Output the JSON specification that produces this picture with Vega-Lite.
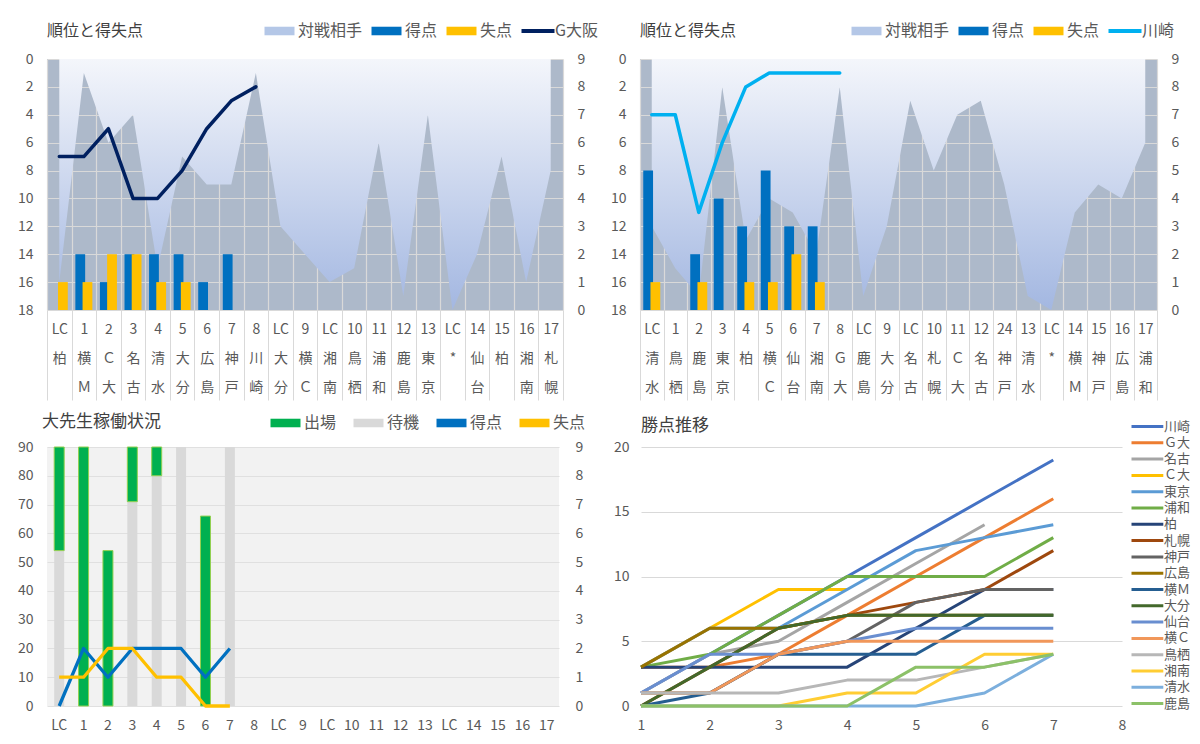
{
 "$schema": "https://vega.github.io/schema/vega-lite/v6.json",
 "background": "white",
 "padding": {"left": 17, "top": 23, "right": 0, "bottom": 0},
 "config": {
  "font": "Noto Sans CJK JP",
  "view": {"stroke": null},
  "axis": {"labelColor": "#595959", "labelFontSize": 14, "labelFont": "Noto Sans CJK JP", "domain": false, "ticks": false, "title": null, "gridColor": "#D9D9D9", "gridWidth": 1.2, "labelOverlap": false},
  "title": {"anchor": "start", "frame": "group", "fontSize": 16, "fontWeight": "normal", "color": "#404040", "font": "Noto Sans CJK JP"},
  "legend": {"labelColor": "#595959", "labelFont": "Noto Sans CJK JP"}
 },
 "datasets": {
  "tl": [
   {"cat": "LC 柏", "opp": 16, "rank": 7, "gf": 0, "ga": 1},
   {"cat": "1 横 Ｍ", "opp": 1, "rank": 7, "gf": 2, "ga": 1},
   {"cat": "2 Ｃ 大", "opp": 6, "rank": 5, "gf": 1, "ga": 2},
   {"cat": "3 名 古", "opp": 4, "rank": 10, "gf": 2, "ga": 2},
   {"cat": "4 清 水", "opp": 15, "rank": 10, "gf": 2, "ga": 1},
   {"cat": "5 大 分", "opp": 7, "rank": 8, "gf": 2, "ga": 1},
   {"cat": "6 広 島", "opp": 9, "rank": 5, "gf": 1, "ga": 0},
   {"cat": "7 神 戸", "opp": 9, "rank": 3, "gf": 2, "ga": 0},
   {"cat": "8 川 崎", "opp": 1, "rank": 2},
   {"cat": "LC 大 分", "opp": 12},
   {"cat": "9 横 Ｃ", "opp": 14},
   {"cat": "LC 湘 南", "opp": 16},
   {"cat": "10 鳥 栖", "opp": 15},
   {"cat": "11 浦 和", "opp": 6},
   {"cat": "12 鹿 島", "opp": 17},
   {"cat": "13 東 京", "opp": 4},
   {"cat": "LC *", "opp": 18},
   {"cat": "14 仙 台", "opp": 14},
   {"cat": "15 柏", "opp": 7},
   {"cat": "16 湘 南", "opp": 16},
   {"cat": "17 札 幌", "opp": 8}
  ],
  "tr": [
   {"cat": "LC 清 水", "opp": 12, "rank": 4, "gf": 5, "ga": 1},
   {"cat": "1 鳥 栖", "opp": 15, "rank": 4, "gf": 0, "ga": 0},
   {"cat": "2 鹿 島", "opp": 17, "rank": 11, "gf": 2, "ga": 1},
   {"cat": "3 東 京", "opp": 2, "rank": 6, "gf": 4, "ga": 0},
   {"cat": "4 柏", "opp": 13, "rank": 2, "gf": 3, "ga": 1},
   {"cat": "5 横 Ｃ", "opp": 10, "rank": 1, "gf": 5, "ga": 1},
   {"cat": "6 仙 台", "opp": 11, "rank": 1, "gf": 3, "ga": 2},
   {"cat": "7 湘 南", "opp": 14, "rank": 1, "gf": 3, "ga": 1},
   {"cat": "8 Ｇ 大", "opp": 2, "rank": 1},
   {"cat": "LC 鹿 島", "opp": 17},
   {"cat": "9 大 分", "opp": 12},
   {"cat": "LC 名 古", "opp": 3},
   {"cat": "10 札 幌", "opp": 8},
   {"cat": "11 Ｃ 大", "opp": 4},
   {"cat": "12 名 古", "opp": 3},
   {"cat": "24 神 戸", "opp": 9},
   {"cat": "13 清 水", "opp": 17},
   {"cat": "LC *", "opp": 18},
   {"cat": "14 横 Ｍ", "opp": 11},
   {"cat": "15 神 戸", "opp": 9},
   {"cat": "16 広 島", "opp": 10},
   {"cat": "17 浦 和", "opp": 6}
  ],
  "bl": [
   {"cat": "LC_a", "bench": 54, "on": 54, "off": 90, "gf": 0, "ga": 1},
   {"cat": "1", "bench": 0, "on": 0, "off": 90, "gf": 2, "ga": 1},
   {"cat": "2", "bench": 0, "on": 0, "off": 54, "gf": 1, "ga": 2},
   {"cat": "3", "bench": 71, "on": 71, "off": 90, "gf": 2, "ga": 2},
   {"cat": "4", "bench": 80, "on": 80, "off": 90, "gf": 2, "ga": 1},
   {"cat": "5", "bench": 90, "gf": 2, "ga": 1},
   {"cat": "6", "bench": 0, "on": 0, "off": 66, "gf": 1, "ga": 0},
   {"cat": "7", "bench": 90, "gf": 2, "ga": 0},
   {"cat": "8"},
   {"cat": "LC_b"},
   {"cat": "9"},
   {"cat": "LC_c"},
   {"cat": "10"},
   {"cat": "11"},
   {"cat": "12"},
   {"cat": "13"},
   {"cat": "LC_d"},
   {"cat": "14"},
   {"cat": "15"},
   {"cat": "16"},
   {"cat": "17"}
  ],
  "br": [
   {"t": "川崎", "md": 1, "p": 1}, {"t": "川崎", "md": 2, "p": 4}, {"t": "川崎", "md": 3, "p": 7}, {"t": "川崎", "md": 4, "p": 10}, {"t": "川崎", "md": 5, "p": 13}, {"t": "川崎", "md": 6, "p": 16}, {"t": "川崎", "md": 7, "p": 19},
   {"t": "Ｇ大", "md": 1, "p": 3}, {"t": "Ｇ大", "md": 2, "p": 3}, {"t": "Ｇ大", "md": 3, "p": 4}, {"t": "Ｇ大", "md": 4, "p": 7}, {"t": "Ｇ大", "md": 5, "p": 10}, {"t": "Ｇ大", "md": 6, "p": 13}, {"t": "Ｇ大", "md": 7, "p": 16},
   {"t": "名古", "md": 1, "p": 1}, {"t": "名古", "md": 2, "p": 4}, {"t": "名古", "md": 3, "p": 5}, {"t": "名古", "md": 4, "p": 8}, {"t": "名古", "md": 5, "p": 11}, {"t": "名古", "md": 6, "p": 14},
   {"t": "Ｃ大", "md": 1, "p": 3}, {"t": "Ｃ大", "md": 2, "p": 6}, {"t": "Ｃ大", "md": 3, "p": 9}, {"t": "Ｃ大", "md": 4, "p": 9},
   {"t": "東京", "md": 1, "p": 3}, {"t": "東京", "md": 2, "p": 6}, {"t": "東京", "md": 3, "p": 6}, {"t": "東京", "md": 4, "p": 9}, {"t": "東京", "md": 5, "p": 12}, {"t": "東京", "md": 6, "p": 13}, {"t": "東京", "md": 7, "p": 14},
   {"t": "浦和", "md": 1, "p": 3}, {"t": "浦和", "md": 2, "p": 4}, {"t": "浦和", "md": 3, "p": 7}, {"t": "浦和", "md": 4, "p": 10}, {"t": "浦和", "md": 5, "p": 10}, {"t": "浦和", "md": 6, "p": 10}, {"t": "浦和", "md": 7, "p": 13},
   {"t": "柏", "md": 1, "p": 3}, {"t": "柏", "md": 2, "p": 3}, {"t": "柏", "md": 3, "p": 3}, {"t": "柏", "md": 4, "p": 3}, {"t": "柏", "md": 5, "p": 6}, {"t": "柏", "md": 6, "p": 9}, {"t": "柏", "md": 7, "p": 9},
   {"t": "札幌", "md": 1, "p": 0}, {"t": "札幌", "md": 2, "p": 3}, {"t": "札幌", "md": 3, "p": 6}, {"t": "札幌", "md": 4, "p": 7}, {"t": "札幌", "md": 5, "p": 8}, {"t": "札幌", "md": 6, "p": 9}, {"t": "札幌", "md": 7, "p": 12},
   {"t": "神戸", "md": 1, "p": 1}, {"t": "神戸", "md": 2, "p": 1}, {"t": "神戸", "md": 3, "p": 4}, {"t": "神戸", "md": 4, "p": 5}, {"t": "神戸", "md": 5, "p": 8}, {"t": "神戸", "md": 6, "p": 9}, {"t": "神戸", "md": 7, "p": 9},
   {"t": "広島", "md": 1, "p": 3}, {"t": "広島", "md": 2, "p": 6}, {"t": "広島", "md": 3, "p": 6}, {"t": "広島", "md": 4, "p": 7}, {"t": "広島", "md": 5, "p": 7}, {"t": "広島", "md": 6, "p": 7}, {"t": "広島", "md": 7, "p": 7},
   {"t": "横Ｍ", "md": 1, "p": 0}, {"t": "横Ｍ", "md": 2, "p": 1}, {"t": "横Ｍ", "md": 3, "p": 4}, {"t": "横Ｍ", "md": 4, "p": 4}, {"t": "横Ｍ", "md": 5, "p": 4}, {"t": "横Ｍ", "md": 6, "p": 7}, {"t": "横Ｍ", "md": 7, "p": 7},
   {"t": "大分", "md": 1, "p": 0}, {"t": "大分", "md": 2, "p": 3}, {"t": "大分", "md": 3, "p": 6}, {"t": "大分", "md": 4, "p": 7}, {"t": "大分", "md": 5, "p": 7}, {"t": "大分", "md": 6, "p": 7}, {"t": "大分", "md": 7, "p": 7},
   {"t": "仙台", "md": 1, "p": 1}, {"t": "仙台", "md": 2, "p": 4}, {"t": "仙台", "md": 3, "p": 4}, {"t": "仙台", "md": 4, "p": 5}, {"t": "仙台", "md": 5, "p": 6}, {"t": "仙台", "md": 6, "p": 6}, {"t": "仙台", "md": 7, "p": 6},
   {"t": "横Ｃ", "md": 1, "p": 1}, {"t": "横Ｃ", "md": 2, "p": 1}, {"t": "横Ｃ", "md": 3, "p": 4}, {"t": "横Ｃ", "md": 4, "p": 5}, {"t": "横Ｃ", "md": 5, "p": 5}, {"t": "横Ｃ", "md": 6, "p": 5}, {"t": "横Ｃ", "md": 7, "p": 5},
   {"t": "鳥栖", "md": 1, "p": 1}, {"t": "鳥栖", "md": 2, "p": 1}, {"t": "鳥栖", "md": 3, "p": 1}, {"t": "鳥栖", "md": 4, "p": 2}, {"t": "鳥栖", "md": 5, "p": 2}, {"t": "鳥栖", "md": 6, "p": 3}, {"t": "鳥栖", "md": 7, "p": 4},
   {"t": "湘南", "md": 1, "p": 0}, {"t": "湘南", "md": 2, "p": 0}, {"t": "湘南", "md": 3, "p": 0}, {"t": "湘南", "md": 4, "p": 1}, {"t": "湘南", "md": 5, "p": 1}, {"t": "湘南", "md": 6, "p": 4}, {"t": "湘南", "md": 7, "p": 4},
   {"t": "清水", "md": 1, "p": 0}, {"t": "清水", "md": 2, "p": 0}, {"t": "清水", "md": 3, "p": 0}, {"t": "清水", "md": 4, "p": 0}, {"t": "清水", "md": 5, "p": 0}, {"t": "清水", "md": 6, "p": 1}, {"t": "清水", "md": 7, "p": 4},
   {"t": "鹿島", "md": 1, "p": 0}, {"t": "鹿島", "md": 2, "p": 0}, {"t": "鹿島", "md": 3, "p": 0}, {"t": "鹿島", "md": 4, "p": 0}, {"t": "鹿島", "md": 5, "p": 3}, {"t": "鹿島", "md": 6, "p": 3}, {"t": "鹿島", "md": 7, "p": 4}
  ]
 },
 "spacing": 388,
 "bounds": "flush",
 "resolve": {"scale": {"color": "independent"}, "legend": {"color": "independent"}},
 "vconcat": [
  {
   "spacing": 77,
   "bounds": "flush",
   "resolve": {"scale": {"color": "independent"}, "legend": {"color": "independent"}},
   "hconcat": [
    {
     "width": 516, "height": 251,
     "title": {"text": "順位と得失点", "offset": 14, "dy": 30},
     "data": {"name": "tl"},
     "view": {"fill": "#ADB9CA", "stroke": null},
     "encoding": {"x": {"field": "cat", "type": "nominal", "sort": null, "scale": {"paddingInner": 0, "paddingOuter": 0},
       "axis": {"labelExpr": "split(datum.label, ' ')", "labelAngle": 0, "labelBaseline": "top", "labelLineHeight": 29, "labelPadding": -78, "ticks": true, "tickSize": 90, "tickColor": "#D9D9D9", "tickBand": "extent", "grid": true, "gridColor": "#D9D9D9", "labelFontSize": 14, "labelOverlap": false}}},
     "layer": [
      {"layer": [
       {"mark": {"type": "area", "line": false, "color": {"gradient": "linear", "x1": 0, "y1": 0, "x2": 0, "y2": 1, "stops": [{"offset": 0, "color": "#F4F6FB"}, {"offset": 1, "color": "#A3B7E1"}]}},
        "encoding": {"y": {"field": "opp", "type": "quantitative", "scale": {"domain": [0, 18], "reverse": true, "nice": false},
          "axis": {"values": [0, 2, 4, 6, 8, 10, 12, 14, 16, 18], "grid": true, "labelPadding": 14, "labelOverlap": false}}}},
       {"mark": {"type": "line", "color": "#002060", "strokeWidth": 3.5, "strokeJoin": "round", "strokeCap": "round"},
        "encoding": {"y": {"field": "rank", "type": "quantitative",
          "axis": {"values": [0, 2, 4, 6, 8, 10, 12, 14, 16, 18], "grid": true, "labelPadding": 14, "labelOverlap": false}}}}
      ]},
      {"layer": [
       {"mark": {"type": "bar", "width": 9.8, "xOffset": -3.6},
        "encoding": {"y": {"field": "gf", "type": "quantitative", "scale": {"domain": [0, 9], "nice": false},
          "axis": {"orient": "right", "values": [0, 1, 2, 3, 4, 5, 6, 7, 8, 9], "grid": false, "labelPadding": 14, "labelOverlap": false}},
         "color": {"datum": "得点", "scale": {"domain": ["対戦相手", "得点", "失点", "G大阪"], "range": ["#B4C7E7", "#0070C0", "#FFC000", "#002060"]},
          "legend": {"orient": "none", "legendX": 217, "legendY": -36, "direction": "horizontal", "title": null, "labelFontSize": 16, "symbolSize": 225, "symbolStrokeWidth": 0, "symbolType": "M-1,-0.57H3V0.57H-1Z", "labelOffset": 18, "columnPadding": 8,
           "encode": {"symbols": {"update": {
             "shape": {"signal": "datum.value === 'G大阪' ? 'M-1,-0.27H3.4V0.27H-1Z' : 'M-1,-0.57H3V0.57H-1Z'"},
             "fill": {"signal": "datum.value === '対戦相手' ? {gradient: 'linear', x1: 0, y1: 0, x2: 0, y2: 1, stops: [{offset: 0, color: '#DCE4F4'}, {offset: 1, color: '#A3B7E1'}]} : datum.value === '得点' ? '#0070C0' : datum.value === '失点' ? '#FFC000' : '#002060'"}}}}}}}},
       {"mark": {"type": "bar", "width": 9.8, "xOffset": 3.6},
        "encoding": {"y": {"field": "ga", "type": "quantitative",
          "axis": {"orient": "right", "values": [0, 1, 2, 3, 4, 5, 6, 7, 8, 9], "grid": false, "labelPadding": 14, "labelOverlap": false}}, "color": {"datum": "失点"}}}
      ]}
     ],
     "resolve": {"scale": {"y": "independent"}}
    },
    {
     "width": 517, "height": 251,
     "title": {"text": "順位と得失点", "offset": 14, "dy": 30},
     "data": {"name": "tr"},
     "view": {"fill": "#ADB9CA", "stroke": null},
     "encoding": {"x": {"field": "cat", "type": "nominal", "sort": null, "scale": {"paddingInner": 0, "paddingOuter": 0},
       "axis": {"labelExpr": "split(datum.label, ' ')", "labelAngle": 0, "labelBaseline": "top", "labelLineHeight": 29, "labelPadding": -78, "ticks": true, "tickSize": 90, "tickColor": "#D9D9D9", "tickBand": "extent", "grid": true, "gridColor": "#D9D9D9", "labelFontSize": 14, "labelOverlap": false}}},
     "layer": [
      {"layer": [
       {"mark": {"type": "area", "line": false, "color": {"gradient": "linear", "x1": 0, "y1": 0, "x2": 0, "y2": 1, "stops": [{"offset": 0, "color": "#F4F6FB"}, {"offset": 1, "color": "#A3B7E1"}]}},
        "encoding": {"y": {"field": "opp", "type": "quantitative", "scale": {"domain": [0, 18], "reverse": true, "nice": false},
          "axis": {"values": [0, 2, 4, 6, 8, 10, 12, 14, 16, 18], "grid": true, "labelPadding": 14, "labelOverlap": false}}}},
       {"mark": {"type": "line", "color": "#00B0F0", "strokeWidth": 3.5, "strokeJoin": "round", "strokeCap": "round"},
        "encoding": {"y": {"field": "rank", "type": "quantitative",
          "axis": {"values": [0, 2, 4, 6, 8, 10, 12, 14, 16, 18], "grid": true, "labelPadding": 14, "labelOverlap": false}}}}
      ]},
      {"layer": [
       {"mark": {"type": "bar", "width": 9.8, "xOffset": -3.6},
        "encoding": {"y": {"field": "gf", "type": "quantitative", "scale": {"domain": [0, 9], "nice": false},
          "axis": {"orient": "right", "values": [0, 1, 2, 3, 4, 5, 6, 7, 8, 9], "grid": false, "labelPadding": 14, "labelOverlap": false}},
         "color": {"datum": "得点", "scale": {"domain": ["対戦相手", "得点", "失点", "川崎"], "range": ["#B4C7E7", "#0070C0", "#FFC000", "#00B0F0"]},
          "legend": {"orient": "none", "legendX": 211, "legendY": -36, "direction": "horizontal", "title": null, "labelFontSize": 16, "symbolSize": 225, "symbolStrokeWidth": 0, "symbolType": "M-1,-0.57H3V0.57H-1Z", "labelOffset": 18, "columnPadding": 8,
           "encode": {"symbols": {"update": {
             "shape": {"signal": "datum.value === '川崎' ? 'M-1,-0.27H3.4V0.27H-1Z' : 'M-1,-0.57H3V0.57H-1Z'"},
             "fill": {"signal": "datum.value === '対戦相手' ? {gradient: 'linear', x1: 0, y1: 0, x2: 0, y2: 1, stops: [{offset: 0, color: '#DCE4F4'}, {offset: 1, color: '#A3B7E1'}]} : datum.value === '得点' ? '#0070C0' : datum.value === '失点' ? '#FFC000' : '#00B0F0'"}}}}}}}},
       {"mark": {"type": "bar", "width": 9.8, "xOffset": 3.6},
        "encoding": {"y": {"field": "ga", "type": "quantitative",
          "axis": {"orient": "right", "values": [0, 1, 2, 3, 4, 5, 6, 7, 8, 9], "grid": false, "labelPadding": 14, "labelOverlap": false}}, "color": {"datum": "失点"}}}
      ]}
     ],
     "resolve": {"scale": {"y": "independent"}}
    }
   ]
  },
  {
   "spacing": 82,
   "bounds": "flush",
   "resolve": {"scale": {"color": "independent"}, "legend": {"color": "independent"}},
   "hconcat": [
    {
     "width": 512, "height": 259,
     "title": {"text": "大先生稼働状況", "offset": 14, "fontSize": 17, "dx": -5, "dy": 30},
     "data": {"name": "bl"},
     "view": {"fill": "#F2F2F2", "stroke": null},
     "encoding": {"x": {"field": "cat", "type": "nominal", "sort": null, "scale": {"paddingInner": 0, "paddingOuter": 0},
       "axis": {"labelExpr": "split(datum.label, '_')[0]", "labelAngle": 0, "labelPadding": 12, "labelFontSize": 14, "labelOverlap": false}}},
     "layer": [
      {"layer": [
       {"mark": {"type": "bar", "width": 10},
        "encoding": {"y": {"field": "bench", "type": "quantitative", "scale": {"domain": [0, 90], "nice": false},
          "axis": {"values": [0, 10, 20, 30, 40, 50, 60, 70, 80, 90], "grid": true, "gridColor": "#E0E0E0", "labelPadding": 14, "labelOverlap": false}},
         "color": {"datum": "待機"}}},
       {"mark": {"type": "bar", "width": 10, "stroke": "#92D050", "strokeWidth": 1},
        "encoding": {"y": {"field": "on", "type": "quantitative",
          "axis": {"values": [0, 10, 20, 30, 40, 50, 60, 70, 80, 90], "grid": true, "gridColor": "#E0E0E0", "labelPadding": 14, "labelOverlap": false}}, "y2": {"field": "off"},
         "color": {"datum": "出場", "scale": {"domain": ["出場", "待機", "得点", "失点"], "range": ["#00B050", "#D9D9D9", "#0070C0", "#FFC000"]},
          "legend": {"orient": "none", "legendX": 223, "legendY": -32, "direction": "horizontal", "title": null, "labelFontSize": 16, "symbolSize": 225, "symbolStrokeWidth": 0, "symbolType": "M-1,-0.57H3V0.57H-1Z", "labelOffset": 18, "columnPadding": 16,
           "encode": {"symbols": {"update": {
             "shape": {"signal": "(datum.value === '得点' || datum.value === '失点') ? 'M-1,-0.27H3.4V0.27H-1Z' : 'M-1,-0.57H3V0.57H-1Z'"}}}}}}}}
      ]},
      {"layer": [
       {"mark": {"type": "line", "color": "#0070C0", "strokeWidth": 3.3, "strokeJoin": "round"},
        "encoding": {"y": {"field": "gf", "type": "quantitative", "scale": {"domain": [0, 9], "nice": false},
          "axis": {"orient": "right", "values": [0, 1, 2, 3, 4, 5, 6, 7, 8, 9], "grid": false, "labelPadding": 16, "labelOverlap": false}}}},
       {"mark": {"type": "line", "color": "#FFC000", "strokeWidth": 3.3, "strokeJoin": "round"},
        "encoding": {"y": {"field": "ga", "type": "quantitative",
          "axis": {"orient": "right", "values": [0, 1, 2, 3, 4, 5, 6, 7, 8, 9], "grid": false, "labelPadding": 16, "labelOverlap": false}}}}
      ]}
     ],
     "resolve": {"scale": {"y": "independent"}}
    },
    {
     "width": 481, "height": 259,
     "title": {"text": "勝点推移", "offset": 14, "fontSize": 17, "dy": 30},
     "data": {"name": "br"},
     "mark": {"type": "line", "strokeWidth": 3, "strokeJoin": "round"},
     "encoding": {
      "x": {"field": "md", "type": "quantitative", "scale": {"domain": [1, 8], "nice": false, "zero": false},
       "axis": {"values": [1, 2, 3, 4, 5, 6, 7, 8], "grid": false, "labelPadding": 12, "labelFlush": false, "labelOverlap": false}},
      "y": {"field": "p", "type": "quantitative", "scale": {"domain": [0, 20], "nice": false},
       "axis": {"values": [0, 5, 10, 15, 20], "grid": true, "labelPadding": 12, "labelOverlap": false}},
      "color": {"field": "t", "type": "nominal", "sort": null,
       "scale": {"domain": ["川崎", "Ｇ大", "名古", "Ｃ大", "東京", "浦和", "柏", "札幌", "神戸", "広島", "横Ｍ", "大分", "仙台", "横Ｃ", "鳥栖", "湘南", "清水", "鹿島"],
        "range": ["#4472C4", "#ED7D31", "#A5A5A5", "#FFC000", "#5B9BD5", "#70AD47", "#264478", "#9E480E", "#636363", "#997300", "#255E91", "#43682B", "#698ED0", "#F1975A", "#B7B7B7", "#FFCD33", "#7CAFDD", "#8CC168"]},
       "legend": {"orient": "none", "legendX": 489, "legendY": -28, "direction": "vertical", "title": null, "labelFontSize": 13, "symbolSize": 144, "symbolStrokeWidth": 3, "symbolType": "M-1,0H4.3", "labelOffset": 19, "rowPadding": 1.3}}
     }
    }
   ]
  }
 ]
}
